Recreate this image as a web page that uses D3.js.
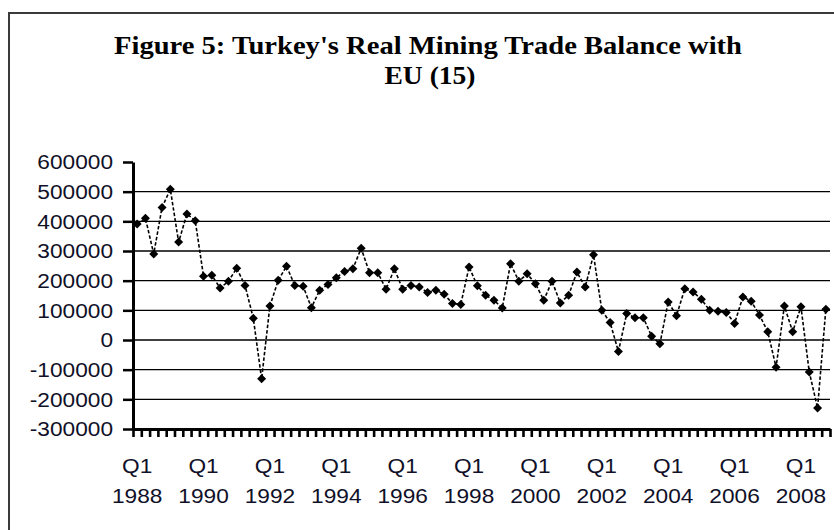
<!DOCTYPE html>
<html><head><meta charset="utf-8">
<script src="https://cdn.jsdelivr.net/npm/d3@7"></script>
<style>body{margin:0;background:#fff}svg{display:block}</style>
</head><body>
<svg id="chart" width="834" height="530"></svg>
<script>
const years = d3.range(1988, 2009);
const quarters = ["Q1", "Q2", "Q3", "Q4"];
const categories = years.flatMap(yr => quarters.map(q => q + " " + yr));

const balance = [
  391000, 410000, 290000, 447000, 508000, 330000, 425000, 402000,
  215000, 218000, 175000, 198000, 242000, 184000, 73000, -131000,
  115000, 201000, 249000, 184000, 181000, 109000, 168000, 187000,
  210000, 231000, 240000, 309000, 227000, 227000, 171000, 240000,
  171000, 184000, 179000, 160000, 168000, 154000, 123000, 120000,
  246000, 183000, 151000, 134000, 108000, 257000, 198000, 223000,
  190000, 134000, 198000, 125000, 151000, 229000, 179000, 287000,
  100000, 59000, -39000, 89000, 75000, 75000, 13000, -13000,
  128000, 82000, 173000, 162000, 137000, 100000, 97000, 93000,
  56000, 145000, 131000, 84000, 28000, -92000, 115000, 28000,
  112000, -108000, -229000, 104000
];

const yTickValues = [-300000, -200000, -100000, 0, 100000, 200000, 300000, 400000, 500000, 600000];
const xLabelYears = [1988, 1990, 1992, 1994, 1996, 1998, 2000, 2002, 2004, 2006, 2008];
const titleLines = ["Figure 5: Turkey's Real Mining Trade Balance with", "EU (15)"];

const svg = d3.select("#chart");
const L = 133, R = 830, T = 162, B = 429;

const x = d3.scaleBand().domain(categories).range([L, R]).paddingInner(0).paddingOuter(0);
const bw = x.bandwidth();
const y = d3.scaleLinear().domain([-300000, 600000]).range([B, T]);

// outer frame
svg.append("rect").attr("x", 9).attr("y", 13).attr("width", 900).attr("height", 600)
  .attr("fill", "none").attr("stroke", "#3a3a3a").attr("stroke-width", 2);

// title
const title = svg.append("g").attr("font-family", "'Liberation Serif', 'Times New Roman', serif")
  .attr("font-weight", "bold").attr("font-size", 26).attr("fill", "#000").attr("text-anchor", "middle");
title.append("text").attr("x", 428).attr("y", 54).attr("textLength", 628).attr("lengthAdjust", "spacingAndGlyphs").text(titleLines[0]);
title.append("text").attr("x", 430).attr("y", 84).attr("textLength", 91).attr("lengthAdjust", "spacingAndGlyphs").text(titleLines[1]);

// gridlines
svg.append("g").selectAll("line")
  .data(yTickValues.filter(v => v > -300000 && v < 600000))
  .join("line")
  .attr("x1", L).attr("x2", R)
  .attr("y1", d => y(d)).attr("y2", d => y(d))
  .attr("stroke", "#000").attr("stroke-width", 1.4);

// y axis
const yAxisG = svg.append("g").attr("transform", `translate(${L},0)`)
  .call(d3.axisLeft(y).tickValues(yTickValues).tickSize(10).tickSizeOuter(0).tickPadding(10)
    .tickFormat(d => String(d)));
yAxisG.select(".domain").attr("stroke", "#000").attr("stroke-width", 3);
yAxisG.selectAll(".tick line").attr("stroke", "#000").attr("stroke-width", 2.5);
yAxisG.selectAll(".tick text")
  .attr("font-family", "'Liberation Sans', Arial, sans-serif").attr("font-size", 21).attr("fill", "#101028")
  .each(function () {
    const t = d3.select(this);
    const xv = +t.attr("x");
    t.attr("x", 0).attr("transform", `translate(${xv},0) scale(1.08,1)`);
  });

// x axis (category boundary ticks)
const bScale = d3.scaleLinear().domain([0, categories.length]).range([L, R]);
const xAxisG = svg.append("g").attr("transform", `translate(0,${B})`)
  .call(d3.axisBottom(bScale).tickValues(d3.range(categories.length + 1)).tickSize(8).tickSizeOuter(0).tickFormat(""));
xAxisG.select(".domain").attr("stroke", "#000").attr("stroke-width", 3);
xAxisG.selectAll(".tick line").attr("stroke", "#000").attr("stroke-width", 2.6);

// x labels
const xl = svg.append("g").attr("font-family", "'Liberation Sans', Arial, sans-serif")
  .attr("font-size", 21).attr("fill", "#101028").attr("text-anchor", "middle");
xLabelYears.forEach(yr => {
  const cx = x("Q1 " + yr) + bw / 2;
  const g = xl.append("g").attr("transform", `translate(${cx},0) scale(1.08,1)`);
  g.append("text").attr("x", 0).attr("y", 473).text("Q1");
  g.append("text").attr("x", 0).attr("y", 503).text(String(yr));
});

// series line
const line = d3.line()
  .x((d, i) => x(categories[i]) + bw / 2)
  .y(d => y(d));
svg.append("path").datum(balance).attr("d", line)
  .attr("fill", "none").attr("stroke", "#000").attr("stroke-width", 1.6)
  .attr("stroke-dasharray", "3.5,2");

// markers
svg.append("g").selectAll("path").data(balance).join("path")
  .attr("transform", (d, i) => `translate(${x(categories[i]) + bw / 2},${y(d)})`)
  .attr("d", "M0,-4.5L4.5,0L0,4.5L-4.5,0Z")
  .attr("fill", "#000");
</script>
</body></html>
